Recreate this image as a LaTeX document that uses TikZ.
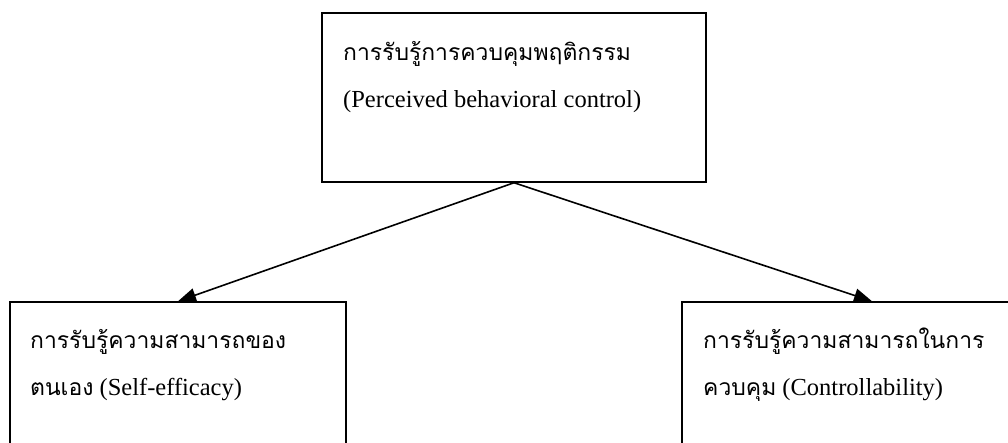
\documentclass[tikz,border=0pt]{standalone}
\usepackage{fontspec}
\setmainfont{Liberation Serif}
\newfontfamily\thai[Script=Thai,Scale=0.935]{Loma}
\usetikzlibrary{arrows.meta}

\tikzset{
  concept/.style={draw=black, line width=1.5pt, rectangle, inner sep=0pt},
  label/.style={anchor=base west, inner sep=0pt, font=\fontsize{24.5}{29}\selectfont},
  link/.style={line width=1.6pt, -{Triangle[length=18pt,width=14pt]}}
}

\begin{document}
\begin{tikzpicture}[x=1pt, y=-1pt]
  \useasboundingbox (0,0) rectangle (1008,443);
  \clip (0,0) rectangle (1008,443);

  % concept boxes
  \node[concept, minimum width=384pt, minimum height=169pt] (pbc) at (514,97.5) {};
  \node[concept, minimum width=336pt, minimum height=170pt] (se) at (178,387) {};
  \node[concept, minimum width=380pt, minimum height=170pt] (ctl) at (872,387) {};

  % box texts
  \node[label] (pbcTh) at (343,61) {\thai การรับรู้การควบคุมพฤติกรรม};
  \node[label] (pbcEn) at (343,108) {(Perceived behavioral control)};

  \node[label] (seTh) at (30,348) {\thai การรับรู้ความสามารถของ};
  \node[label] (seEn) at (30,395) {{\thai ตนเอง} (Self-efficacy)};

  \node[label] (ctlTh) at (703,348) {\thai การรับรู้ความสามารถในการ};
  \node[label] (ctlEn) at (703,395) {{\thai ควบคุม} (Controllability)};

  % links
  \draw[link] (pbc.south) -- (se.north);
  \draw[link] (pbc.south) -- (ctl.north);
\end{tikzpicture}
\end{document}
